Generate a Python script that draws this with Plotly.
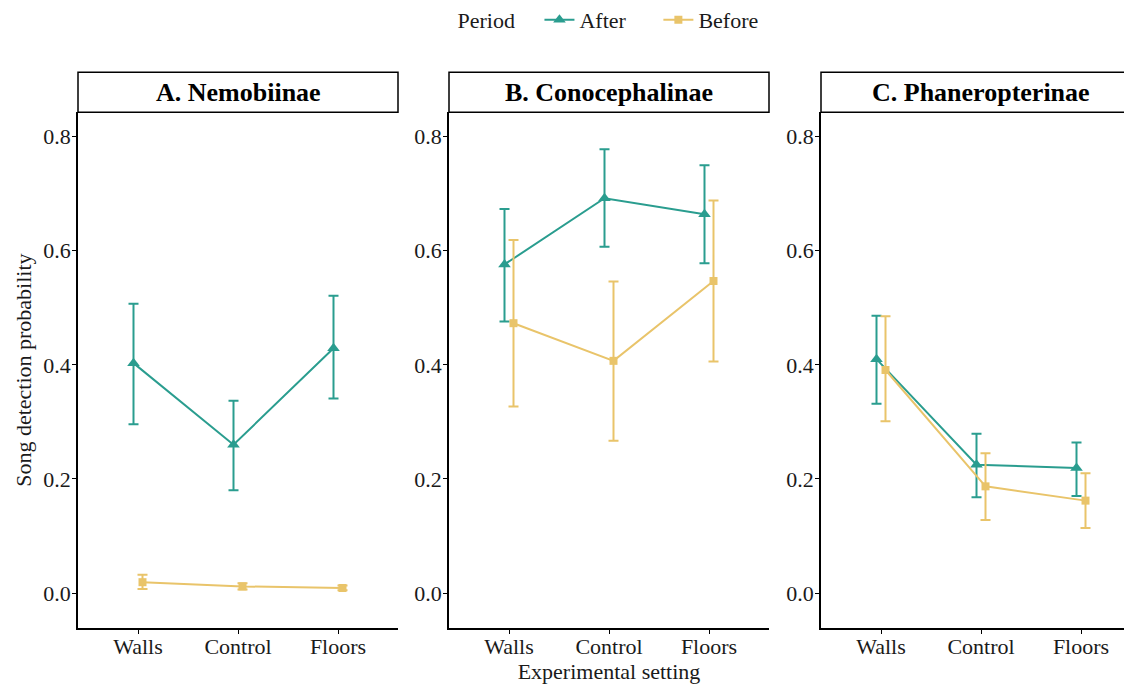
import plotly.graph_objects as go

# ---- data ----
categories = ["Walls", "Control", "Floors"]
panels = ["A. Nemobiinae", "B. Conocephalinae", "C. Phaneropterinae"]

after_mean = [[0.403, 0.260, 0.429], [0.576, 0.692, 0.664], [0.410, 0.225, 0.219]]
after_low = [[0.296, 0.180, 0.341], [0.476, 0.607, 0.578], [0.332, 0.168, 0.170]]
after_high = [[0.507, 0.337, 0.521], [0.673, 0.778, 0.750], [0.486, 0.279, 0.264]]

before_mean = [[0.019, 0.0116, 0.0088], [0.473, 0.407, 0.547], [0.391, 0.187, 0.162]]
before_low = [[0.007, 0.006, 0.005], [0.327, 0.267, 0.406], [0.301, 0.128, 0.114]]
before_high = [[0.032, 0.017, 0.013], [0.619, 0.546, 0.688], [0.485, 0.245, 0.210]]

y_ticks = [0.0, 0.2, 0.4, 0.6, 0.8]
y_tick_labels = ["0.0", "0.2", "0.4", "0.6", "0.8"]

# ---- style ----
TEAL = "#2A9D8F"
GOLD = "#E9C46A"
FONT = "Liberation Serif"
FS = 22
S = 8  # page body offset in the screenshot
W, H = 1132 - S, 687 - S
ML, MR, MB, MT = 78 - S, 0, 59, 0
PW = W - ML - MR
PH = H - MB - MT

def px_x(p):
    return (p - S - ML) / PW

def px_y(p):
    return (H - MB - (p - S)) / PH

domains = [(px_x(78), px_x(398)), (px_x(449), px_x(769)), (px_x(821), 1.0)]
xranges = [[0.4, 3.6], [0.4, 3.6], [0.4, 0.4 + (1132 - 821) / 100.0]]
ydom = [0, px_y(112.3)]
yrange = [-0.0613, 0.8427]
dodge = 0.045
NB = "\u00a0"

fig = go.Figure()
xpos = [1, 2, 3]

for i in range(3):
    xa = "x" if i == 0 else f"x{i+1}"
    ya = "y" if i == 0 else f"y{i+1}"
    for name, label, color, sym, msize, mean, lo, hi, off in [
        ("After", "After" + NB * 5, TEAL, "triangle-up", 11, after_mean, after_low, after_high, -dodge),
        ("Before", "Before", GOLD, "square", 8, before_mean, before_low, before_high, dodge),
    ]:
        m = mean[i]
        fig.add_trace(go.Scatter(
            x=[p + off for p in xpos], y=m,
            mode="lines+markers",
            name=label, legendgroup=name, showlegend=(i == 0),
            line=dict(color=color, width=2),
            marker=dict(symbol=sym, size=msize, color=color),
            error_y=dict(type="data", symmetric=False,
                         array=[h - v for h, v in zip(hi[i], m)],
                         arrayminus=[v - l for v, l in zip(m, lo[i])],
                         color=color, thickness=2, width=5),
            xaxis=xa, yaxis=ya,
        ))

layout = dict(
    width=W, height=H,
    margin=dict(l=ML, r=MR, t=MT, b=MB, autoexpand=False),
    paper_bgcolor="white", plot_bgcolor="white",
    font=dict(family=FONT, size=FS, color="#1a1a1a"),
    showlegend=True,
    legend=dict(orientation="h", x=px_x(609.5), xanchor="center", y=1.0 + 9.0 / PH, yanchor="top",
                bgcolor="rgba(0,0,0,0)",
                title=dict(text="Period" + NB * 3, font=dict(size=FS)),
                font=dict(size=FS), tracegroupgap=0),
)

for i in range(3):
    kx = "xaxis" if i == 0 else f"xaxis{i+1}"
    ky = "yaxis" if i == 0 else f"yaxis{i+1}"
    ya = "y" if i == 0 else f"y{i+1}"
    xa = "x" if i == 0 else f"x{i+1}"
    layout[kx] = dict(domain=list(domains[i]), range=xranges[i], anchor=ya,
                      tickvals=xpos, ticktext=categories, automargin=False,
                      showline=True, linecolor="black", linewidth=1.5,
                      ticks="outside", ticklen=4, tickcolor="black", tickwidth=1.2,
                      ticklabelstandoff=-6,
                      showgrid=False, zeroline=False,
                      tickfont=dict(family=FONT, size=FS, color="#1a1a1a"))
    layout[ky] = dict(domain=ydom, range=yrange, anchor=xa,
                      tickvals=y_ticks, ticktext=y_tick_labels, automargin=False,
                      showline=True, linecolor="black", linewidth=1.5,
                      ticks="outside", ticklen=4, tickcolor="black", tickwidth=1.2,
                      ticklabelstandoff=-3,
                      showgrid=False, zeroline=False,
                      tickfont=dict(family=FONT, size=FS, color="#1a1a1a"))

layout["xaxis2"]["title"] = dict(text="Experimental setting", font=dict(family=FONT, size=FS), standoff=0)
layout["yaxis"]["title"] = dict(text="Song detection probability", font=dict(family=FONT, size=FS), standoff=6)

shapes = []
annotations = []
strip_y0, strip_y1 = px_y(112.3), px_y(72.3)
for i in range(3):
    x0, x1 = domains[i]
    shapes.append(dict(type="rect", xref="paper", yref="paper",
                       x0=x0, x1=x1 + (0.01 if i == 2 else 0), y0=strip_y0, y1=strip_y1,
                       line=dict(color="black", width=1.5), fillcolor="white", layer="below"))
    cx = (x0 + px_x(821 + 320)) / 2 if i == 2 else (x0 + x1) / 2
    annotations.append(dict(text=f"<b>{panels[i]}</b>", xref="paper", yref="paper",
                            x=cx, y=(strip_y0 + strip_y1) / 2, xanchor="center", yanchor="middle",
                            showarrow=False, font=dict(family=FONT, size=26, color="black")))
layout["shapes"] = shapes
layout["annotations"] = annotations

fig.update_layout(**layout)
fig.write_html("out.html")
